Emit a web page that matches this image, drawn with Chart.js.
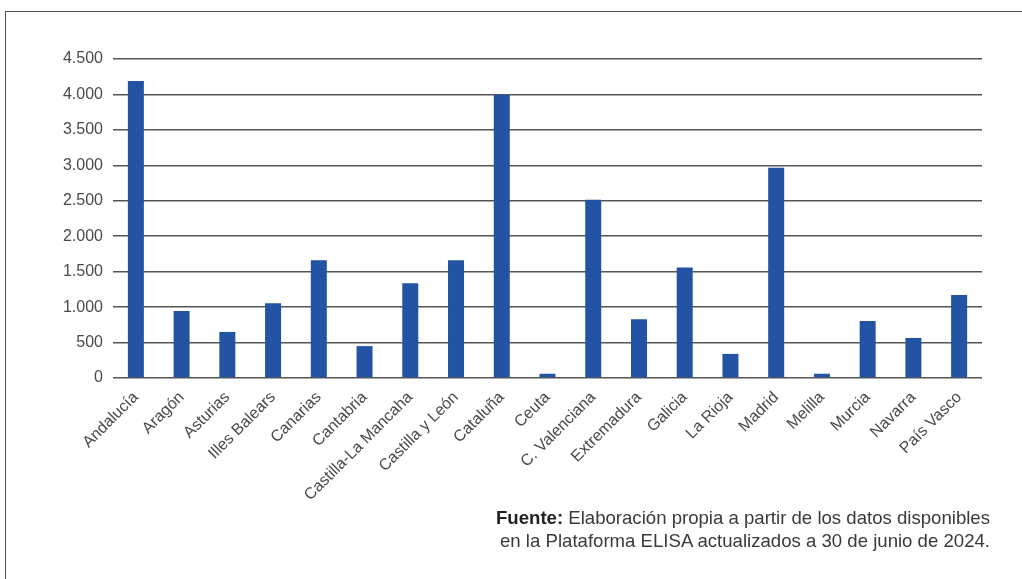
<!DOCTYPE html>
<html>
<head>
<meta charset="utf-8">
<script src="https://cdn.jsdelivr.net/npm/chart.js@4.4.1/dist/chart.umd.min.js"></script>
<style>
  html, body { margin: 0; padding: 0; background: #fff; }
  body { width: 1022px; height: 579px; position: relative; overflow: hidden; font-family: "Liberation Sans", Arial, sans-serif; }
  #frame { position: absolute; left: 5px; top: 11px; width: 1100px; height: 700px; border: 1.5px solid #555; box-sizing: border-box; }
  #wrap { position: absolute; left: 0; top: 0; width: 1022px; height: 579px; }
  #fuente { position: absolute; right: 32px; top: 506px; text-align: right; font-size: 18.6px; line-height: 23px; color: #3a3a3a; }
  #fuente b { color: #222; }
</style>
</head>
<body>
<div id="frame"></div>
<div id="wrap"><canvas id="grafica"></canvas></div>
<div id="fuente"><b>Fuente:</b> Elaboración propia a partir de los datos disponibles<br>en la Plataforma ELISA actualizados a 30 de junio de 2024.</div>
<script>
    const comunidades = [
        'Andalucía', 'Aragón', 'Asturias', 'Illes Balears', 'Canarias', 'Cantabria',
        'Castilla-La Mancaha', 'Castilla y León', 'Cataluña', 'Ceuta', 'C. Valenciana',
        'Extremadura', 'Galicia', 'La Rioja', 'Madrid', 'Melilla', 'Murcia', 'Navarra', 'País Vasco'
    ];
    const valores = [4190, 945, 650, 1055, 1660, 450, 1335, 1660, 3995, 60, 2515, 830, 1560, 340, 2965, 60, 805, 565, 1170];
    const ticksY = [0, 500, 1000, 1500, 2000, 2500, 3000, 3500, 4000, 4500];

    // separador de miles con punto
    const formato = v => String(v).replace(/\B(?=(\d{3})+(?!\d))/g, '.');

    document.addEventListener("DOMContentLoaded", () => {
        const ctx = document.getElementById('grafica').getContext('2d');
        new Chart(ctx, {
            type: 'bar',
            data: {
                labels: comunidades,
                datasets: [{
                    data: valores,
                    backgroundColor: '#2254a3',
                    borderWidth: 0,
                    barPercentage: 0.7,
                    categoryPercentage: 0.5
                }]
            },
            options: {
                responsive: true,
                maintainAspectRatio: false,
                animation: false,
                layout: { padding: { left: 58, right: 40, top: 59, bottom: 0 } },
                plugins: {
                    legend: { display: false },
                    tooltip: { enabled: false }
                },
                scales: {
                    x: {
                        grid: { display: false },
                        border: { display: false },
                        ticks: {
                            minRotation: 45,
                            maxRotation: 45,
                            autoSkip: false,
                            padding: 2,
                            color: '#4a4a4a',
                            font: { family: 'Liberation Sans', size: 16 }
                        },
                        afterFit: scale => { scale.height = 201; }
                    },
                    y: {
                        min: 0,
                        max: 4500,
                        afterBuildTicks: scale => { scale.ticks = ticksY.map(v => ({ value: v })); },
                        grid: { color: '#555', lineWidth: 1.5, drawTicks: false },
                        border: { display: false },
                        ticks: {
                            padding: 10,
                            color: '#4a4a4a',
                            font: { family: 'Liberation Sans', size: 16 },
                            callback: v => formato(v)
                        },
                        afterFit: scale => { scale.width = 55; }
                    }
                }
            }
        });
    });
</script>
</body>
</html>
